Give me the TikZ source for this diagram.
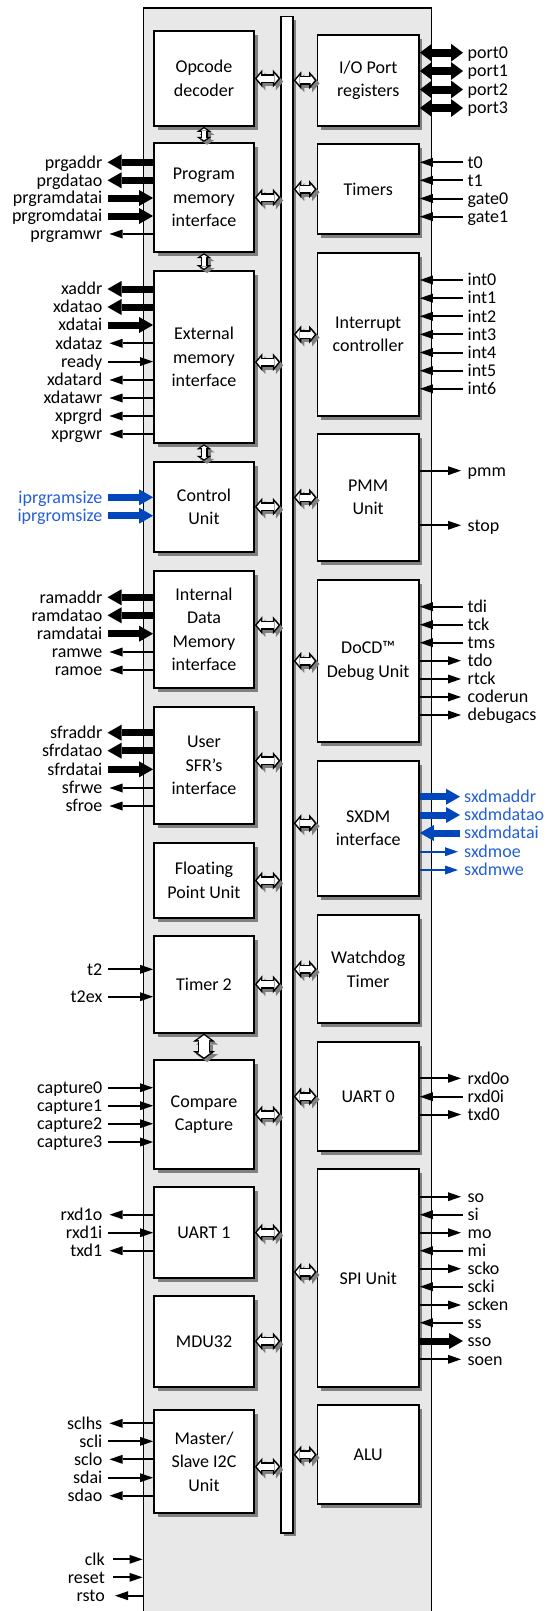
\documentclass[tikz,border=0pt]{standalone}
\usepackage{fontspec}
\setmainfont{Carlito}[Ligatures=NoCommon]
\usetikzlibrary{arrows.meta,shadows}

\definecolor{chipgray}{RGB}{232,232,232}
\definecolor{sigblue}{RGB}{0,71,187}
\definecolor{labelblue}{RGB}{35,95,215}

\tikzset{
  block/.style={draw, line width=1.8pt, fill=white, align=center, inner sep=2pt,
    drop shadow={shadow xshift=3.5pt, shadow yshift=-4pt, fill=black!50, opacity=1}},
  lblock/.style={block, minimum width=100pt},
  rblock/.style={block, minimum width=101.5pt},
  lname/.style={anchor=east, inner sep=0pt, text height=11.5pt, text depth=0pt},
  rname/.style={lname, anchor=west},
  % signal arrows
  sigout/.style={line width=2pt, -{Triangle[length=13pt,width=9pt,line width=0pt]}, shorten >=2pt},
  sigin/.style={line width=2pt, {Triangle[length=13pt,width=9pt,line width=0pt]}-},
  fatout/.style={line width=7pt, -{Triangle[length=14pt,width=16pt,line width=0pt]}},
  fatin/.style={line width=7pt, {Triangle[length=14pt,width=16pt,line width=0pt]}-},
  fatio/.style={line width=8pt, >={Triangle[length=12pt,width=18pt,line width=0pt]}, <->},
  % hollow double arrows
  bus link/.style={line width=9pt, >={Triangle[length=7.5pt,width=18pt,line width=0pt]}, <->},
  bus link core/.style={white, line width=6pt, shorten <=1.95pt, shorten >=1.95pt,
    >={Triangle[length=4pt,width=9.7pt,line width=0pt]}, <->},
  stack link/.style={line width=7pt, >={Triangle[length=5pt,width=15pt,line width=0pt]}, <->},
  stack link core/.style={white, line width=4.4pt, shorten <=1.6pt, shorten >=1.6pt,
    >={Triangle[length=2.1pt,width=6.4pt,line width=0pt]}, <->},
  big link/.style={line width=12pt, >={Triangle[length=8pt,width=22pt,line width=0pt]}, <->},
  big link core/.style={white, line width=9.2pt, shorten <=1.7pt, shorten >=1.7pt,
    >={Triangle[length=4.9pt,width=13.4pt,line width=0pt]}, <->},
}

\newcommand\duplex[3]{%
  \draw[#1, black!50, transform canvas={shift={(3pt,-3pt)}}] (#2) -- (#3);
  \draw[#1] (#2) -- (#3);
  \draw[#1 core] (#2) -- (#3);}

\begin{document}
\begin{tikzpicture}[x=1pt, y=-1pt, font=\fontsize{18}{23.5}\selectfont]
\useasboundingbox (0,0) rectangle (549,1611);

% chip outline and internal bus
\node[draw, line width=1.5pt, fill=chipgray, anchor=north west, inner sep=0pt,
  minimum width=288pt, minimum height=1660pt] (chip) at (142.5,7.5) {};
\node[draw, line width=1.5pt, fill=white, anchor=north, inner sep=0pt,
  minimum width=12pt, minimum height=1516pt,
  drop shadow={shadow xshift=3pt, shadow yshift=-3pt, fill=black!50, opacity=1}] (bus) at (287,16) {};

% left column
\node[lblock, minimum height=95pt] (opcode) at (204,78.5) {Opcode\\decoder};
\node[lblock, minimum height=109.6pt] (prgmem) at (204,197.5) {Program\\memory\\interface};
\node[lblock, minimum height=172.3pt] (extmem) at (204,357.2) {External\\memory\\interface};
\node[lblock, minimum height=90pt] (ctrl) at (204,506.7) {Control\\Unit};
\node[lblock, minimum height=117pt] (idm) at (204,629.2) {Internal\\Data\\Memory\\interface};
\node[lblock, minimum height=117.3pt] (sfr) at (204,765.3) {User\\SFR’s\\interface};
\node[lblock, minimum height=75.6pt] (fpu) at (204,880.5) {Floating\\Point Unit};
\node[lblock, minimum height=96.7pt] (tmr2) at (204,984.3) {Timer 2};
\node[lblock, minimum height=109pt] (cmpcap) at (204,1114.5) {Compare\\Capture};
\node[lblock, minimum height=90.4pt] (uart1) at (204,1232.5) {UART 1};
\node[lblock, minimum height=90.7pt] (mdu) at (204,1341.3) {MDU32};
\node[lblock, minimum height=103.3pt] (i2c) at (204,1461.7) {Master/\\Slave I2C\\Unit};

% right column
\node[rblock, minimum height=90.7pt] (ioport) at (368.2,80.3) {I/O Port\\registers};
\node[rblock, minimum height=90.3pt] (timers) at (368.2,189.2) {Timers};
\node[rblock, minimum height=162.4pt] (intc) at (368.2,334.5) {Interrupt\\controller};
\node[rblock, minimum height=126.4pt] (pmmunit) at (368.2,497.5) {PMM\\Unit};
\node[rblock, minimum height=162pt] (docd) at (368.2,661) {DoCD™\\Debug Unit};
\node[rblock, minimum height=135.3pt] (sxdm) at (368.2,828.3) {SXDM\\interface};
\node[rblock, minimum height=108.3pt] (wdt) at (368.2,969.2) {Watchdog\\Timer};
\node[rblock, minimum height=109pt] (uart0) at (368.2,1096.5) {UART 0};
\node[rblock, minimum height=217.4pt] (spi) at (368.2,1278) {SPI Unit};
\node[rblock, minimum height=99.3pt] (alu) at (368.2,1454.7) {ALU};

% links between blocks and bus
\coordinate (extmem-link) at ([yshift=-5pt]extmem.east);
\coordinate (idm-link) at ([yshift=4pt]idm.east);
\coordinate (sfr-link) at ([yshift=4.5pt]sfr.east);
\coordinate (i2c-link) at ([yshift=-5pt]i2c.east);
\coordinate (sxdm-link) at ([yshift=5pt]sxdm.west);
\coordinate (spi-link) at ([yshift=6pt]spi.west);

\duplex{bus link}{opcode.east}{opcode.east -| bus.west}
\duplex{bus link}{prgmem.east}{prgmem.east -| bus.west}
\duplex{bus link}{extmem-link}{extmem-link -| bus.west}
\duplex{bus link}{ctrl.east}{ctrl.east -| bus.west}
\duplex{bus link}{idm-link}{idm-link -| bus.west}
\duplex{bus link}{sfr-link}{sfr-link -| bus.west}
\duplex{bus link}{fpu.east}{fpu.east -| bus.west}
\duplex{bus link}{tmr2.east}{tmr2.east -| bus.west}
\duplex{bus link}{cmpcap.east}{cmpcap.east -| bus.west}
\duplex{bus link}{uart1.east}{uart1.east -| bus.west}
\duplex{bus link}{mdu.east}{mdu.east -| bus.west}
\duplex{bus link}{i2c-link}{i2c-link -| bus.west}

\duplex{bus link}{ioport.west -| bus.east}{ioport.west}
\duplex{bus link}{timers.west -| bus.east}{timers.west}
\duplex{bus link}{intc.west -| bus.east}{intc.west}
\duplex{bus link}{pmmunit.west -| bus.east}{pmmunit.west}
\duplex{bus link}{docd.west -| bus.east}{docd.west}
\duplex{bus link}{sxdm-link -| bus.east}{sxdm-link}
\duplex{bus link}{wdt.west -| bus.east}{wdt.west}
\duplex{bus link}{uart0.west -| bus.east}{uart0.west}
\duplex{bus link}{spi-link -| bus.east}{spi-link}
\duplex{bus link}{alu.west -| bus.east}{alu.west}

\duplex{stack link}{opcode.south}{prgmem.north}
\duplex{stack link}{prgmem.south}{extmem.north}
\duplex{stack link}{extmem.south}{ctrl.north}
\duplex{big link}{tmr2.south}{cmpcap.north}

% left side signals
\foreach \s/\y/\k in {prgaddr/162.3/fatout, prgdatao/180.3/fatout, prgramdatai/198/fatin,
    prgromdatai/216/fatin, prgramwr/234/sigout}{
  \node[lname] (\s) at (102.5,\y) {\s};
  \draw[\k] (prgmem.west |- \s.east) -- ([xshift=5pt]\s.east);}
\foreach \s/\y/\k in {xaddr/289/fatout, xdatao/307/fatout, xdatai/325/fatin, xdataz/343.3/sigout,
    ready/361.6/sigin, xdatard/380/sigout, xdatawr/398/sigout, xprgrd/416/sigout, xprgwr/434/sigout}{
  \node[lname] (\s) at (102.5,\y) {\s};
  \draw[\k] (extmem.west |- \s.east) -- ([xshift=5pt]\s.east);}
\foreach \s/\y in {iprgramsize/497.3, iprgromsize/515.7}{
  \node[lname, text=labelblue] (\s) at (102.5,\y) {\s};
  \draw[fatin, sigblue] (ctrl.west |- \s.east) -- ([xshift=5pt]\s.east);}
\foreach \s/\y/\k in {ramaddr/597.3/fatout, ramdatao/615.3/fatout, ramdatai/633.7/fatin,
    ramwe/652/sigout, ramoe/670/sigout}{
  \node[lname] (\s) at (102.5,\y) {\s};
  \draw[\k] (idm.west |- \s.east) -- ([xshift=5pt]\s.east);}
\foreach \s/\y/\k in {sfraddr/732.7/fatout, sfrdatao/750.7/fatout, sfrdatai/769.3/fatin,
    sfrwe/788/sigout, sfroe/806/sigout}{
  \node[lname] (\s) at (102.5,\y) {\s};
  \draw[\k] (sfr.west |- \s.east) -- ([xshift=5pt]\s.east);}
\foreach \s/\y in {t2/969.3, t2ex/996.7}{
  \node[lname] (\s) at (102.5,\y) {\s};
  \draw[sigin] (tmr2.west |- \s.east) -- ([xshift=5pt]\s.east);}
\foreach \s/\y in {capture0/1087.7, capture1/1105.7, capture2/1123.7, capture3/1142}{
  \node[lname] (\s) at (102.5,\y) {\s};
  \draw[sigin] (cmpcap.west |- \s.east) -- ([xshift=5pt]\s.east);}
\foreach \s/\y/\k in {rxd1o/1214.7/sigout, rxd1i/1232.7/sigin, txd1/1250.7/sigout}{
  \node[lname] (\s) at (102.5,\y) {\s};
  \draw[\k] (uart1.west |- \s.east) -- ([xshift=5pt]\s.east);}
\foreach \s/\y/\k in {sclhs/1423.3/sigout, scli/1441.3/sigin, sclo/1459.3/sigout,
    sdai/1477.7/sigin, sdao/1495.7/sigout}{
  \node[lname] (\s) at (102.5,\y) {\s};
  \draw[\k] (i2c.west |- \s.east) -- ([xshift=5pt]\s.east);}
\foreach \s/\y/\k in {clk/1559.3/sigin, reset/1577.3/sigin, rsto/1595.7/sigout}{
  \node[lname] (\s) at (105,\y) {\s};
  \draw[\k] (chip.west |- \s.east) -- ([xshift=8pt]\s.east);}

% right side signals
\foreach \s/\y in {port0/52.7, port1/71, port2/89.5, port3/108}{
  \node[rname] (\s) at (467.5,\y) {\s};
  \draw[fatio] (ioport.east |- \s.west) -- ([xshift=-4.5pt]\s.west);}
\foreach \s/\y in {t0/162.3, t1/180.3, gate0/198.5, gate1/216.7}{
  \node[rname] (\s) at (467.5,\y) {\s};
  \draw[sigin] (timers.east |- \s.west) -- ([xshift=-4.5pt]\s.west);}
\foreach \s/\y in {int0/280, int1/298.2, int2/316.3, int3/334.4, int4/352.5, int5/370.7, int6/388.8}{
  \node[rname] (\s) at (467.5,\y) {\s};
  \draw[sigin] (intc.east |- \s.west) -- ([xshift=-4.5pt]\s.west);}
\foreach \s/\y in {pmm/470.7, stop/525.3}{
  \node[rname] (\s) at (467.5,\y) {\s};
  \draw[sigout] (pmmunit.east |- \s.west) -- ([xshift=-4.5pt]\s.west);}
\foreach \s/\y/\k in {tdi/606.7/sigin, tck/624.7/sigin, tms/642.7/sigin, tdo/660.7/sigout,
    rtck/679/sigout, coderun/697/sigout, debugacs/715/sigout}{
  \node[rname] (\s) at (467.5,\y) {\s};
  \draw[\k] (docd.east |- \s.west) -- ([xshift=-4.5pt]\s.west);}
\foreach \s/\y/\k in {sxdmaddr/796.7/fatout, sxdmdatao/815/fatout, sxdmdatai/833/fatin,
    sxdmoe/851.7/sigout, sxdmwe/870/sigout}{
  \node[rname, text=labelblue] (\s) at (464,\y) {\s};
  \draw[\k, sigblue] (sxdm.east |- \s.west) -- ([xshift=-4pt]\s.west);}
\foreach \s/\y/\k in {rxd0o/1078.3/sigout, rxd0i/1096.7/sigin, txd0/1114.5/sigout}{
  \node[rname] (\s) at (467.5,\y) {\s};
  \draw[\k] (uart0.east |- \s.west) -- ([xshift=-4.5pt]\s.west);}
\foreach \s/\y/\k in {so/1196.7/sigout, si/1214.7/sigin, mo/1232.7/sigout, mi/1250.7/sigin,
    scko/1268.7/sigout, scki/1286.7/sigin, scken/1305/sigout, ss/1322.7/sigin,
    sso/1341/fatout, soen/1359.3/sigout}{
  \node[rname] (\s) at (467.5,\y) {\s};
  \draw[\k] (spi.east |- \s.west) -- ([xshift=-4.5pt]\s.west);}

\end{tikzpicture}
\end{document}
